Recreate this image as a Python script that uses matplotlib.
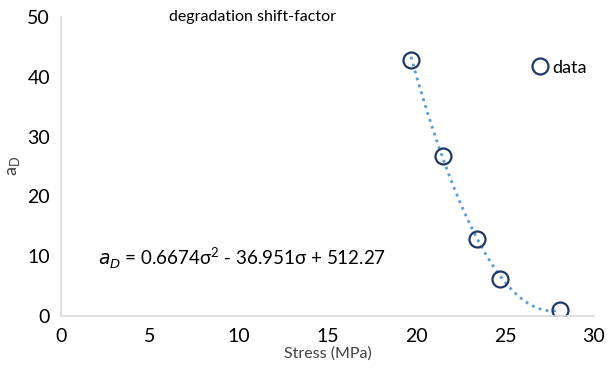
import matplotlib
import matplotlib.pyplot as plt
import numpy as np

matplotlib.use("Agg")
plt.rcParams["font.family"] = ["Lato", "DejaVu Sans"]

## Data
stress = [19.7, 21.5, 23.4, 24.7, 28.1]
shift_factor = [42.8, 26.8, 12.9, 6.2, 0.9]
fit_coef = [0.6674, -36.951, 512.27]
x_ticks = [0, 5, 10, 15, 20, 25, 30]
y_ticks = [0, 10, 20, 30, 40, 50]

text_color = "#404040"
fig = plt.figure(figsize=(6.11, 3.69), dpi=100)
ax = fig.add_axes([0.1, 0.144, 0.872, 0.81])

xs = np.linspace(min(stress), max(stress), 200)
ax.plot(xs, np.polyval(fit_coef, xs), linestyle=(0, (1, 1.6)), color="#5B9BD5", linewidth=2)
ax.plot(stress, shift_factor, "o", markersize=11.5, markerfacecolor="none",
        markeredgecolor="#1F3864", markeredgewidth=1.6, label="data")

ax.set_xlim(0, 30)
ax.set_ylim(0, 50)
ax.set_xticks(x_ticks)
ax.set_yticks(y_ticks)
ax.tick_params(length=0, labelsize=14, labelcolor="black")
ax.tick_params(axis="x", pad=9)
ax.tick_params(axis="y", pad=8)
for side in ["top", "right"]:
    ax.spines[side].set_visible(False)
for side in ["left", "bottom"]:
    ax.spines[side].set_color("#D9D9D9")
    ax.spines[side].set_linewidth(1.2)

ax.set_xlabel("Stress (MPa)", fontsize=11.5, color=text_color, labelpad=1)
ax.set_ylabel("a$_\\mathregular{D}$", fontsize=13, color=text_color, labelpad=4)
ax.text(0.36, 1.0, "degradation shift-factor", transform=ax.transAxes,
        ha="center", va="center", fontsize=11.5, color="black")
ax.text(2.1, 9.6, "$\\mathit{a_D}$ = 0.6674\u03c3$^\\mathregular{2}$ - 36.951\u03c3 + 512.27",
        fontsize=13.5, va="center", color="black")

leg = ax.legend(loc="center right", bbox_to_anchor=(1.0, 0.83), frameon=False,
                fontsize=13, handletextpad=0.1, handlelength=1.2, borderaxespad=0)

plt.savefig("out.png", dpi=100)
